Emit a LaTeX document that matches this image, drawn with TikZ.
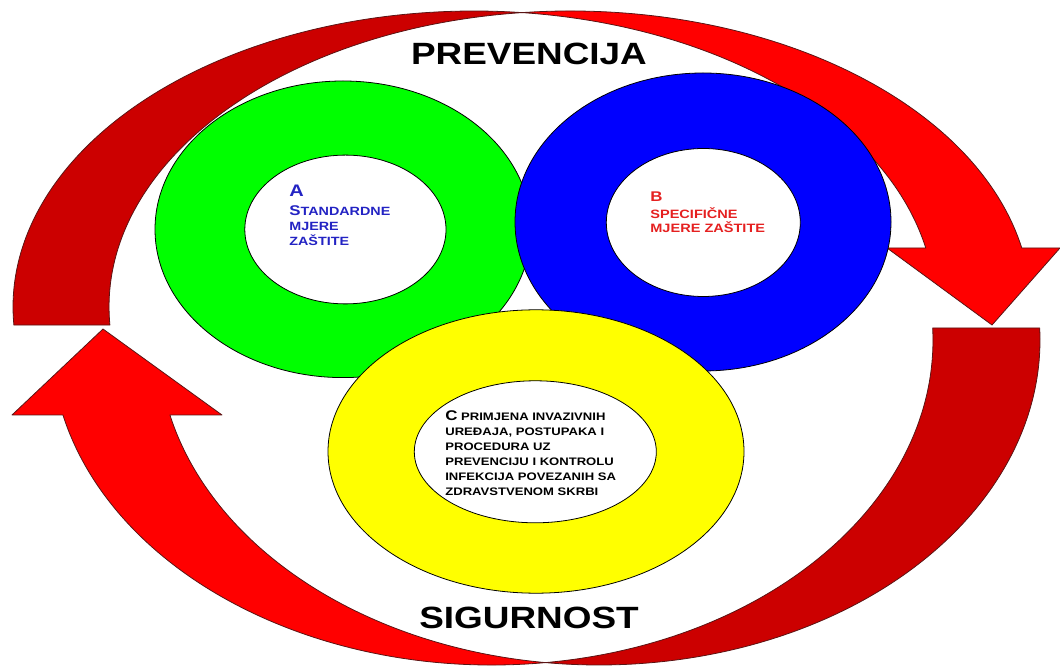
\documentclass[tikz,border=0pt]{standalone}
\usepackage{fontspec}
\setmainfont{Liberation Sans}[FakeStretch=1.2]
\usetikzlibrary{calc}
\definecolor{redx}{HTML}{FF0000}
\definecolor{darkredx}{HTML}{CC0000}
\definecolor{edgex}{HTML}{5A1414}
\definecolor{greenx}{HTML}{00FF00}
\definecolor{bluex}{HTML}{0000FF}
\definecolor{yellowx}{HTML}{FFFF00}
\definecolor{bluetxt}{HTML}{2323C3}
\definecolor{redtxt}{HTML}{E52020}
\tikzset{
  band/.style={draw=edgex,line width=0.45pt,line join=round},
  ring/.style={draw=black,line width=0.45pt,even odd rule},
  title/.style={font=\bfseries\fontsize{17.5}{20}\selectfont,inner sep=0pt},
  blk/.style={font=\bfseries\fontsize{6.8}{8.6}\selectfont,align=left,inner sep=0pt,anchor=north west}
}
\begin{document}
\begin{tikzpicture}[x=0.02cm,y=0.02cm]
\useasboundingbox (0,0) rectangle (1060,669);
% centres of the ellipses that bound the two curved arrows
\coordinate (E1) at (474,362);
\coordinate (E2) at (570,362);
\coordinate (F1) at (492,329);
\coordinate (F2) at (599,329);
% upper arrow: dark back part, then bright part with head
\filldraw[band,fill=darkredx] ($(E1)+(183.49:461 and 296)$)
  arc[start angle=183.49,end angle=84.02,x radius=461,y radius=296]
  arc[start angle=95.98,end angle=183.49,x radius=461,y radius=296] -- cycle;
\filldraw[band,fill=redx] ($(E2)+(95.98:461 and 296)$)
  arc[start angle=95.98,end angle=11.5,x radius=461,y radius=296]
  -- (1060,421) -- (992,344) -- (887,421) -- ($(E1)+(11.5:461 and 296)$)
  arc[start angle=11.5,end angle=84.02,x radius=461,y radius=296] -- cycle;
% lower arrow: bright part with head, then dark back part
\filldraw[band,fill=redx] ($(F1)+(276.97:441 and 325)$)
  arc[start angle=276.97,end angle=193.34,x radius=441,y radius=325]
  -- (12,254) -- (103,340) -- (222,254) -- ($(F2)+(193.34:441 and 325)$)
  arc[start angle=193.34,end angle=263.03,x radius=441,y radius=325] -- cycle;
\filldraw[band,fill=darkredx] ($(F2)+(2.12:441 and 325)$)
  arc[start angle=2.12,end angle=-96.97,x radius=441,y radius=325]
  arc[start angle=-83.03,end angle=2.12,x radius=441,y radius=325] -- cycle;
% rings
\filldraw[ring,fill=greenx] (343,439.7) ellipse[x radius=188,y radius=148.3]
  (345.4,439.5) ellipse[x radius=100.6,y radius=74.4];
\filldraw[ring,fill=bluex] (703,447) ellipse[x radius=188,y radius=149]
  (703.3,446.5) ellipse[x radius=97,y radius=74];
\filldraw[ring,fill=yellowx] (536,217.5) ellipse[x radius=208,y radius=141.7]
  (535.3,217.2) ellipse[x radius=121,y radius=71];
% texts
\node[title] (prev) at (529,615) {PREVENCIJA};
\node[title] (sig) at (529,51) {SIGURNOST};
\node[blk,text=bluetxt] (txtA) at (289,484)
  {{\fontsize{9.5}{10}\selectfont A}\\[1.8pt]{\fontsize{8}{9}\selectfont S}TANDARDNE\\MJERE\\ZAŠTITE};
\node[blk,text=redtxt,font=\bfseries\fontsize{6.9}{8}\selectfont] (txtB) at (650,478)
  {{\fontsize{8}{9}\selectfont B}\\[2.2pt]SPECIFIČNE\\MJERE ZAŠTITE};
\node[blk,font=\bfseries\fontsize{6.2}{8.6}\selectfont] (txtC) at (445,259)
  {{\fontsize{8}{9}\selectfont C} PRIMJENA INVAZIVNIH\\UREĐAJA, POSTUPAKA I\\PROCEDURA UZ\\PREVENCIJU I KONTROLU\\INFEKCIJA POVEZANIH SA\\ZDRAVSTVENOM SKRBI};
\end{tikzpicture}
\end{document}
